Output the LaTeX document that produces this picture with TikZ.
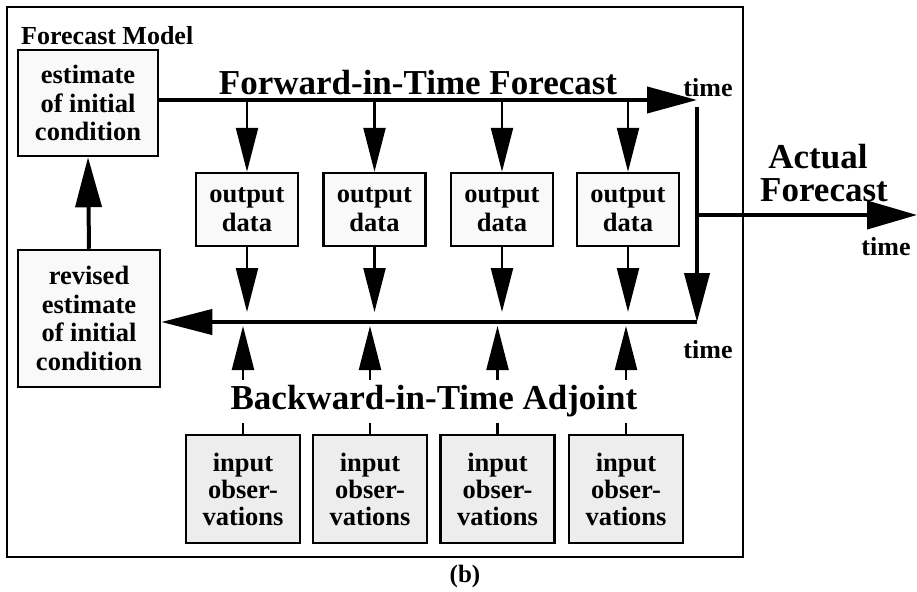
\documentclass[tikz,border=0pt]{standalone}
\usepackage{fontspec}
\setmainfont{Liberation Serif}
\usetikzlibrary{arrows.meta}
\begin{document}
\begin{tikzpicture}[x=1pt,y=-1pt,
  box/.style={draw, line width=2.5pt, fill=gray!5, align=center, inner sep=0pt,
    font=\bfseries\fontsize{26.5}{28.5}\selectfont},
  inbox/.style={box, fill=gray!14, font=\bfseries\fontsize{26.5}{27}\selectfont},
  bigtext/.style={font=\bfseries\fontsize{35}{33}\selectfont, inner sep=0pt, align=center},
  smalltext/.style={font=\bfseries\fontsize{26}{28}\selectfont, inner sep=0pt},
  thickline/.style={line width=4pt},
  shaft/.style={line width=2.3pt},
  tipA/.style={-{Triangle[length=44pt,width=22pt]}},
  tipB/.style={-{Triangle[length=50pt,width=26pt]}},
]
\useasboundingbox (0,0) rectangle (917,591);
\draw[line width=2pt] (7,7) rectangle (743,557);

\node[smalltext, anchor=west] (model) at (21,36) {Forecast Model};
\node[box, minimum width=140pt, minimum height=106pt] (est) at (88,103) {estimate\\of initial\\condition};
\node[box, minimum width=142pt, minimum height=137pt] (rev) at (89,318.5) {revised\\estimate\\of initial\\condition};

\node[bigtext] (fwd) at (418,83) {Forward-in-Time Forecast};
\node[bigtext] (bwd) at (434,401) {Backward-in-Time Adjoint};
\node[smalltext] (t1) at (708,88) {time};
\node[smalltext] (t3) at (708,350) {time};
\node[smalltext] (t2) at (886,247) {time};
\node[bigtext] (act) at (818,173) {Actual\\\hspace*{12pt}Forecast};
\node[smalltext, font=\bfseries\fontsize{25}{27}\selectfont] (b) at (465,576) {(b)};

\coordinate (fwdend) at (697,100);
\coordinate (vtop) at (697,107);
\coordinate (vbot) at (697,322);
\coordinate (afork) at (697,215);
\coordinate (aend) at (917,215);

% forward line
\draw[thickline, tipB] (est.east |- fwdend) -- (fwdend);
% right vertical line down to backward line
\draw[thickline, -{Triangle[length=49pt,width=25pt]}] (vtop) -- (vbot);
% backward line to revised estimate
\draw[thickline, -{Triangle[length=51pt,width=25pt]}] (vbot) -- (rev.east |- vbot);
% actual forecast
\draw[thickline, -{Triangle[length=50pt,width=28pt]}] (afork) -- (aend);
% revised -> estimate
\draw[thickline, tipB] (rev.north) -- (est.south);

\foreach \i/\x in {1/247,2/374.5,3/502,4/628}{
  \node[box, minimum width=102pt, minimum height=73pt] (out\i) at (\x,209.5) {output\\data};
  \coordinate (f\i) at (\x,100);
  \coordinate (b\i) at (\x,312);
  \draw[shaft, tipA] (f\i) -- (out\i.north);
  \draw[shaft, tipA] (out\i.south) -- (b\i);
}
\foreach \i/\x in {1/243,2/370,3/497.5,4/626}{
  \node[inbox, minimum width=114pt, minimum height=108pt] (in\i) at (\x,489) {input\\obser-\\vations};
  \coordinate (u\i) at (\x,380);
  \coordinate (ub\i) at (\x,326);
  \coordinate (l\i) at (\x,423);
  \draw[shaft] (in\i.north) -- (l\i);
  \draw[shaft, tipA] (u\i) -- (ub\i);
}
\end{tikzpicture}
\end{document}
